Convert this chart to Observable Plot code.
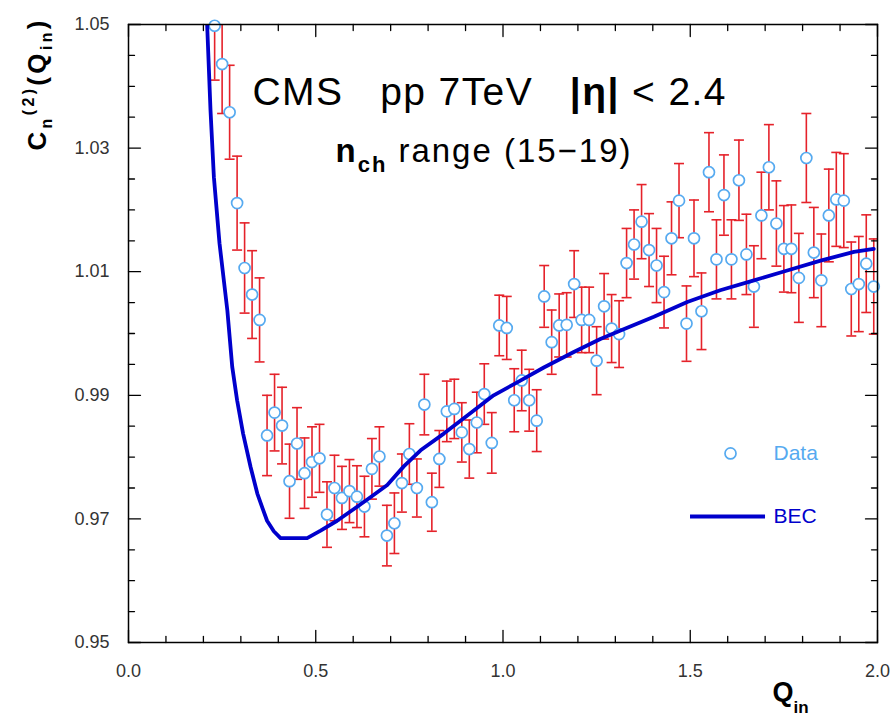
<!DOCTYPE html>
<html><head><meta charset="utf-8">
<script src="https://cdn.jsdelivr.net/npm/d3@7"></script>
<script src="https://cdn.jsdelivr.net/npm/@observablehq/plot@0.6"></script>
<style>html,body{margin:0;padding:0;background:#fff;}</style>
</head><body><div id="chart"></div>
<script>
// ---- data ----
const qin = [0.23,0.25,0.27,0.29,0.31,0.33,0.35,0.37,0.39,0.41,0.43,0.45,0.47,0.49,0.51,0.53,0.55,0.57,0.59,0.61,
  0.63,0.65,0.67,0.69,0.71,0.73,0.75,0.77,0.79,0.81,0.83,0.85,0.87,0.89,0.91,0.93,0.95,0.97,0.99,1.01,
  1.03,1.05,1.07,1.09,1.11,1.13,1.15,1.17,1.19,1.21,1.23,1.25,1.27,1.29,1.31,1.33,1.35,1.37,1.39,1.41,
  1.43,1.45,1.47,1.49,1.51,1.53,1.55,1.57,1.59,1.61,1.63,1.65,1.67,1.69,1.71,1.73,1.75,1.77,1.79,1.81,
  1.83,1.85,1.87,1.89,1.91,1.93,1.95,1.97,1.99];
const cn2 = [1.0498,1.0436,1.0358,1.0211,1.0106,1.0063,1.0022,0.9835,0.9872,0.9851,0.9761,0.9822,0.9774,0.9792,0.9798,0.9707,0.9750,0.9734,0.9745,0.9736,
  0.9720,0.9781,0.9801,0.9673,0.9693,0.9758,0.9805,0.9750,0.9885,0.9727,0.9797,0.9874,0.9878,0.9840,0.9813,0.9856,0.9902,0.9823,1.0013,1.0009,
  0.9892,0.9924,0.9892,0.9859,1.0060,0.9986,1.0013,1.0014,1.0080,1.0022,1.0022,0.9956,1.0044,1.0008,0.9999,1.0114,1.0144,1.0181,1.0135,1.0110,
  1.0067,1.0154,1.0215,1.0016,1.0154,1.0036,1.0261,1.0120,1.0224,1.0120,1.0248,1.0128,1.0076,1.0191,1.0269,1.0178,1.0137,1.0137,1.0090,1.0284,
  1.0131,1.0086,1.0191,1.0217,1.0215,1.0072,1.0080,1.0113,1.0076];
const cn2Err = [0.0088,0.0080,0.0076,0.0076,0.0073,0.0071,0.0068,0.0065,0.0062,0.0062,0.0060,0.0058,0.0057,0.0057,0.0055,0.0053,0.0053,0.0051,0.0051,0.0050,
  0.0049,0.0049,0.0048,0.0049,0.0049,0.0047,0.0049,0.0047,0.0049,0.0047,0.0046,0.0049,0.0048,0.0048,0.0047,0.0049,0.0049,0.0049,0.0049,0.0051,
  0.0051,0.0049,0.0050,0.0050,0.0050,0.0052,0.0051,0.0052,0.0054,0.0053,0.0053,0.0055,0.0053,0.0055,0.0054,0.0056,0.0056,0.0060,0.0059,0.0060,
  0.0058,0.0059,0.0060,0.0061,0.0062,0.0062,0.0064,0.0064,0.0065,0.0064,0.0065,0.0065,0.0066,0.0070,0.0069,0.0069,0.0070,0.0071,0.0072,0.0072,
  0.0073,0.0075,0.0075,0.0076,0.0076,0.0076,0.0077,0.0079,0.0077];
const becQ = [0.205,0.210,0.219,0.228,0.243,0.264,0.277,0.290,0.306,0.326,0.344,0.358,0.370,0.388,0.406,0.477,0.513,0.557,0.602,0.646,0.691,0.735,
  0.780,0.842,0.904,0.975,1.038,1.109,1.189,1.260,1.314,1.403,1.492,1.580,1.670,1.759,1.848,1.937,1.990];
const becC = [1.0560,1.0500,1.0361,1.0253,1.0146,1.0037,0.9946,0.9892,0.9838,0.9784,0.9741,0.9717,0.9697,0.9680,0.9669,0.9669,0.9681,0.9697,0.9716,0.9735,0.9755,0.9785,
  0.9811,0.9838,0.9867,0.9900,0.9921,0.9945,0.9970,0.9991,1.0005,1.0027,1.0051,1.0070,1.0086,1.0102,1.0118,1.0132,1.0137];

const xMajor = [0, 0.5, 1.0, 1.5, 2.0];
const xTickLabels = ["0.0", "0.5", "1.0", "1.5", "2.0"];
const xMinor = [0.1,0.2,0.3,0.4,0.6,0.7,0.8,0.9,1.1,1.2,1.3,1.4,1.6,1.7,1.8,1.9];
const yMajor = [0.95, 0.97, 0.99, 1.01, 1.03, 1.05];
const yTickLabels = ["0.95", "0.97", "0.99", "1.01", "1.03", "1.05"];
const yMinor = [0.955,0.96,0.965,0.975,0.98,0.985,0.995,1.0,1.005,1.015,1.02,1.025,1.035,1.04,1.045];

const titleText = "CMS  pp 7TeV  |η| < 2.4";
const subtitleText = "nch range (15−19)";
const yLabelText = "Cn(2)(Qin)";
const xLabelText = "Qin";
const legendLabels = ["Data", "BEC"];

// ---- tables built from the arrays ----
const points = qin.map((q, i) => ({q, c: cn2[i], lo: cn2[i] - cn2Err[i], hi: cn2[i] + cn2Err[i]}));
const bec = becQ.map((q, i) => ({q, c: becC[i]}));

const red = "#e5222a", lightBlue = "#56aaf0", darkBlue = "#0000cc";
const font = "'Liberation Sans', Arial, Helvetica, sans-serif";
const capSymbol = {draw(ctx, size) { const w = Math.sqrt(size / Math.PI); ctx.moveTo(-w, 0); ctx.lineTo(w, 0); }};
const tickShape = {draw(ctx, l) { ctx.moveTo(0, 0); ctx.lineTo(0, -l); }};
const tk = {shape: tickShape, anchor: "start", stroke: "black", strokeWidth: 1.3};

const chart = Plot.plot({
  width: 895, height: 717,
  marginLeft: 128, marginRight: 18, marginTop: 24, marginBottom: 75,
  x: {domain: [0, 2]},
  y: {domain: [0.95, 1.05]},
  style: {fontFamily: font, background: "white", color: "black"},
  marks: [
    Plot.ruleX(points, {x: "q", y1: "lo", y2: "hi", stroke: red, strokeWidth: 1.6, clip: true}),
    Plot.dot(points, {x: "q", y: "hi", symbol: capSymbol, r: 5, stroke: red, strokeWidth: 1.6, clip: true}),
    Plot.dot(points, {x: "q", y: "lo", symbol: capSymbol, r: 5, stroke: red, strokeWidth: 1.6, clip: true}),
    Plot.dot(points, {x: "q", y: "c", r: 5.5, stroke: lightBlue, fill: "white", strokeWidth: 1.7}),
    Plot.line(bec, {x: "q", y: "c", stroke: darkBlue, strokeWidth: 3.8, clip: true}),
    Plot.frame({stroke: "black", strokeWidth: 1.5}),
    // inward ticks on all four sides
    Plot.vector(xMajor, {...tk, x: d => d, frameAnchor: "bottom", rotate: 0, length: 12}),
    Plot.vector(xMinor, {...tk, x: d => d, frameAnchor: "bottom", rotate: 0, length: 6}),
    Plot.vector(xMajor, {...tk, x: d => d, frameAnchor: "top", rotate: 180, length: 12}),
    Plot.vector(xMinor, {...tk, x: d => d, frameAnchor: "top", rotate: 180, length: 6}),
    Plot.vector(yMajor, {...tk, y: d => d, frameAnchor: "left", rotate: 90, length: 12}),
    Plot.vector(yMinor, {...tk, y: d => d, frameAnchor: "left", rotate: 90, length: 6}),
    Plot.vector(yMajor, {...tk, y: d => d, frameAnchor: "right", rotate: -90, length: 12}),
    Plot.vector(yMinor, {...tk, y: d => d, frameAnchor: "right", rotate: -90, length: 6}),
    // tick labels
    Plot.axisX(xMajor, {anchor: "bottom", label: null, tickSize: 0, tickPadding: 22, fontSize: 18, fill: "#333",
      tickFormat: d => xTickLabels[xMajor.indexOf(d)]}),
    Plot.axisY(yMajor, {anchor: "left", label: null, tickSize: 0, tickPadding: 19, fontSize: 18, fill: "#333",
      tickFormat: d => yTickLabels[yMajor.indexOf(d)]}),
    // annotations
    Plot.text([titleText], {x: 0.9626, y: 1.0369, text: d => d, lineAnchor: "bottom", textAnchor: "middle", fontSize: 39, fill: "black"}),
    Plot.text([subtitleText], {x: 0.9466, y: 1.0277, text: d => d, lineAnchor: "bottom", textAnchor: "middle", fontSize: 33, fill: "black"}),
    Plot.text([yLabelText], {frameAnchor: "top-left", dx: -83, dy: 126, rotate: -90, text: d => d, lineAnchor: "bottom", textAnchor: "start", fontSize: 26, fontWeight: "bold", fill: "black"}),
    Plot.text([xLabelText], {frameAnchor: "bottom-right", dx: -105, dy: 58, text: d => d, lineAnchor: "bottom", textAnchor: "start", fontSize: 27, fontWeight: "bold", fill: "black"}),
    // legend
    Plot.dot([legendLabels[0]], {x: 1.6075, y: 0.9806, r: 5.5, stroke: lightBlue, fill: "white", strokeWidth: 1.7}),
    Plot.text([legendLabels[0]], {x: 1.7223, y: 0.9806, text: d => d, textAnchor: "start", fontSize: 21, fill: lightBlue}),
    Plot.ruleY([legendLabels[1]], {y: 0.97039, x1: 1.5007, x2: 1.701, stroke: darkBlue, strokeWidth: 3.8}),
    Plot.text([legendLabels[1]], {x: 1.7223, y: 0.97039, text: d => d, textAnchor: "start", fontSize: 21, fill: darkBlue})
  ]
});

// rich text (sub/superscripts) for annotations
function rich(svg, content, html, attrs = {}) {
  for (const t of svg.querySelectorAll("text")) {
    if (t.textContent === content) {
      t.innerHTML = html;
      for (const [k, v] of Object.entries(attrs)) t.setAttribute(k, v);
    }
  }
}
rich(chart, titleText, 'CMS\u00a0\u00a0 pp 7TeV\u00a0\u00a0 <tspan font-weight="bold">|η|</tspan> &lt; 2.4', {textLength: 473, lengthAdjust: "spacing"});
rich(chart, subtitleText, '<tspan font-weight="bold">n</tspan><tspan font-weight="bold" font-size="22" dy="10">ch</tspan><tspan dy="-10"> range (15−19)</tspan>', {textLength: 295, lengthAdjust: "spacing"});
rich(chart, yLabelText, 'C<tspan font-size="16" dy="6">n</tspan><tspan font-size="16" dy="-18">(2)</tspan><tspan dy="12">(Q</tspan><tspan font-size="16" dy="6">in</tspan><tspan dy="-6">)</tspan>', {textLength: 130, lengthAdjust: "spacing"});
rich(chart, xLabelText, 'Q<tspan font-size="17" dy="12">in</tspan>');

document.getElementById("chart").appendChild(chart);
</script>
</body></html>
